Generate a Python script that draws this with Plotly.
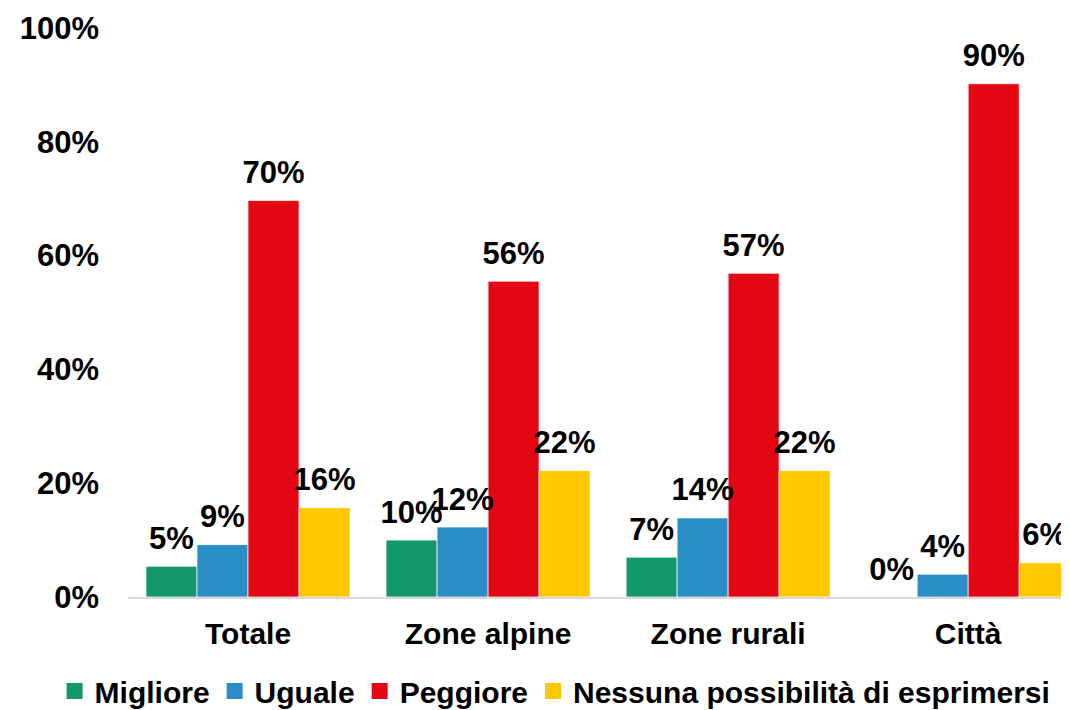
import plotly.graph_objects as go

categories = ["Totale", "Zone alpine", "Zone rurali", "Città"]
series_names = ["Migliore", "Uguale", "Peggiore", "Nessuna possibilità di esprimersi"]
migliore = [0.054, 0.100, 0.070, 0.000]
uguale = [0.092, 0.123, 0.139, 0.040]
peggiore = [0.697, 0.555, 0.569, 0.902]
nessuna = [0.157, 0.222, 0.222, 0.060]
y_ticks = [0, 0.2, 0.4, 0.6, 0.8, 1.0]
y_tick_labels = ["0%", "20%", "40%", "60%", "80%", "100%"]

colors = ["#13976C", "#2A8DC5", "#E30613", "#FFC800"]
FONT = "Liberation Sans, Arial, sans-serif"


def bold(size):
    return dict(family=FONT, size=size, color="#000000", weight="bold")


series = [migliore, uguale, peggiore, nessuna]
fig = go.Figure()
for i, vals in enumerate(series):
    fig.add_trace(go.Bar(
        x=categories, y=vals, name=series_names[i],
        marker=dict(color=colors[i], line=dict(color="rgba(255,255,255,0.7)", width=1)),
        offsetgroup=str(i), alignmentgroup="a", showlegend=False,
    ))
for i, vals in enumerate(series):
    fig.add_trace(go.Scatter(
        x=categories, y=vals, mode="markers+text",
        text=[f"{round(v*100):.0f}%" for v in vals],
        textposition="top center",
        textfont=bold(31),
        marker=dict(size=14, opacity=0),
        offsetgroup=str(i), alignmentgroup="a",
        showlegend=False, hoverinfo="skip", cliponaxis=False,
    ))
# legend entries (square swatches)
for i, name in enumerate(series_names):
    fig.add_trace(go.Scatter(
        x=[None], y=[None], mode="markers", name=name,
        marker=dict(symbol="square", size=16, color=colors[i]),
        offsetgroup=str(i), alignmentgroup="a",
    ))

fig.update_layout(
    autosize=False,
    width=1061, height=702,
    margin=dict(l=120, r=0, t=20, b=113, autoexpand=False),
    paper_bgcolor="white", plot_bgcolor="white",
    barmode="group", bargap=0.15, bargroupgap=0,
    scattermode="group", scattergap=0.15,
    font=bold(30),
    showlegend=True,
    legend=dict(
        orientation="h", xref="paper", yref="paper",
        x=-0.078, xanchor="left", y=-0.165, yanchor="middle",
        font=bold(30),
        itemwidth=30, tracegroupgap=0,
    ),
    xaxis=dict(
        type="category", range=[-0.5, 3.42],
        showline=True, linecolor="#D9D9D9", linewidth=2,
        showgrid=False, ticks="", ticklabelstandoff=9,
        tickfont=bold(30),
    ),
    yaxis=dict(
        range=[0, 1.0], tickvals=y_ticks, ticktext=y_tick_labels,
        showgrid=False, showline=False, zeroline=False, ticks="",
        ticklabelstandoff=28,
        tickfont=bold(31),
    ),
)

fig.write_html("out.html")
